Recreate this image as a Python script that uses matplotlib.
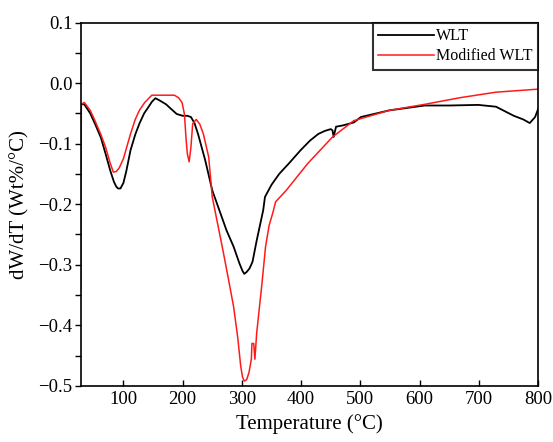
import matplotlib
matplotlib.use('Agg')
import matplotlib.pyplot as plt
from matplotlib.ticker import MultipleLocator

plt.rcParams['font.family'] = ['Liberation Serif', 'DejaVu Serif']

# WLT curve (temperature in C, dW/dT in wt%/C)
wlt_temp = [28, 34, 44, 52, 62, 70, 78, 84, 88, 91, 95, 100, 105, 112, 120, 127,
            135, 142, 148, 154, 160, 172, 182, 190, 200, 208, 214, 220, 226, 238,
            250, 262, 274, 286, 296, 301, 304, 308, 313, 318, 325, 336, 339, 350,
            363, 380, 399, 415, 429, 440, 450, 453, 455, 457, 459, 470, 489, 501,
            549, 609, 650, 699, 729, 759, 775, 786, 795, 800]
wlt_dtg = [-0.035, -0.035, -0.050, -0.067, -0.090, -0.117, -0.145, -0.163, -0.171,
           -0.174, -0.174, -0.165, -0.145, -0.111, -0.085, -0.067, -0.050, -0.040,
           -0.031, -0.025, -0.028, -0.035, -0.044, -0.051, -0.054, -0.054, -0.056,
           -0.066, -0.084, -0.127, -0.177, -0.210, -0.243, -0.270, -0.298, -0.310,
           -0.315, -0.312, -0.306, -0.295, -0.260, -0.210, -0.188, -0.168, -0.150,
           -0.132, -0.111, -0.095, -0.084, -0.079, -0.076, -0.078, -0.089, -0.080,
           -0.072, -0.070, -0.065, -0.056, -0.045, -0.037, -0.037, -0.036, -0.039,
           -0.054, -0.060, -0.066, -0.056, -0.043]

# Modified WLT curve
mod_temp = [28, 29, 34, 44, 52, 62, 70, 77, 83, 88, 93, 100, 112, 120, 127, 136,
            142, 148, 170, 186, 193, 199, 203, 206, 208, 211, 214, 217, 223, 229,
            235, 244, 250, 259, 268, 277, 286, 293, 298, 301, 304, 308, 312, 316,
            317, 320, 322, 325, 334, 340, 346, 352, 357, 375, 411, 453, 489, 549,
            609, 669, 729, 800]
mod_dtg = [-0.341, -0.035, -0.032, -0.045, -0.062, -0.085, -0.106, -0.130, -0.147,
           -0.146, -0.140, -0.125, -0.084, -0.060, -0.045, -0.032, -0.026, -0.020,
           -0.020, -0.020, -0.024, -0.032, -0.051, -0.095, -0.117, -0.130, -0.106,
           -0.067, -0.060, -0.068, -0.084, -0.122, -0.188, -0.232, -0.276, -0.322,
           -0.369, -0.420, -0.467, -0.485, -0.492, -0.490, -0.478, -0.456, -0.430,
           -0.430, -0.456, -0.413, -0.330, -0.270, -0.235, -0.215, -0.196, -0.177,
           -0.133, -0.089, -0.062, -0.045, -0.035, -0.024, -0.015, -0.010]

fig = plt.figure(figsize=(5.53, 4.42), dpi=100)
ax = fig.add_axes([0.146, 0.127, 0.827, 0.822])

ax.plot(wlt_temp, wlt_dtg, color='black', linewidth=1.3, label='WLT')
ax.plot(mod_temp, mod_dtg, color='#ff1a1a', linewidth=1.1, label='Modified WLT')

ax.set_xlim(28, 800)
ax.set_ylim(-0.5, 0.1)
ax.xaxis.set_major_locator(MultipleLocator(100))
ax.yaxis.set_major_locator(MultipleLocator(0.1))
ax.yaxis.set_minor_locator(MultipleLocator(0.05))
ax.yaxis.set_major_formatter(plt.FuncFormatter(
    lambda v, p: f'{v:.1f}'.replace('-', '\u2212')))

ax.tick_params(axis='x', direction='in', length=4, width=1, labelsize=13.5, pad=4)
ax.tick_params(axis='y', which='major', direction='out', length=4, width=1,
               labelsize=13.5, pad=2)
ax.tick_params(axis='y', which='minor', direction='out', length=4, width=1)
for spine in ax.spines.values():
    spine.set_linewidth(1.2)

ax.set_xlabel('Temperature (°C)', fontsize=15, labelpad=4)
ax.set_ylabel('dW/dT (Wt%/°C)', fontsize=15, labelpad=6)

leg = ax.legend(loc='upper right', bbox_to_anchor=(1.0, 1.0), fontsize=11.5,
                frameon=True, fancybox=False, edgecolor='black',
                borderaxespad=0, handlelength=3.5, handletextpad=0.1,
                borderpad=0.35, labelspacing=0.25)
leg.get_frame().set_linewidth(1.5)

fig.savefig('out.png', dpi=100)
